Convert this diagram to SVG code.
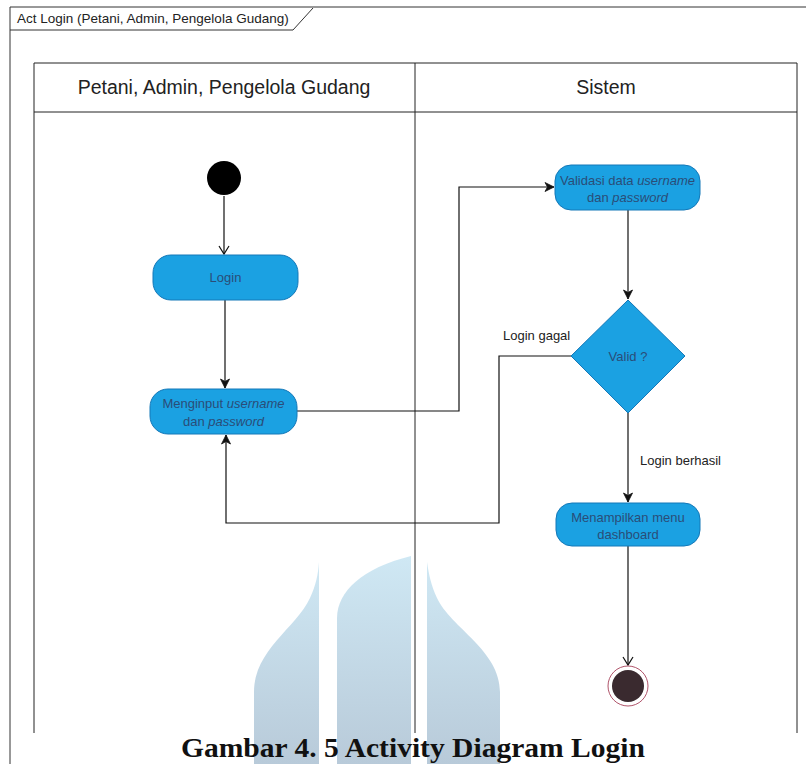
<svg xmlns="http://www.w3.org/2000/svg" width="806" height="764" viewBox="0 0 806 764">
  <defs>
    <style>
      .frame { fill: none; stroke: #333; stroke-width: 1; }
      .lane { fill: none; stroke: #222; stroke-width: 1; }
      .hdr { font-family: "Liberation Sans", Arial, sans-serif; font-size: 19.5px; fill: #222; text-anchor: middle; }
      .act { fill: #1ba1e2; stroke: #1478b8; stroke-width: 1; }
      .atxt { font-family: "Liberation Sans", Arial, sans-serif; font-size: 13px; fill: #2a4d78; text-anchor: middle; }
      .lbl { font-family: "Liberation Sans", Arial, sans-serif; font-size: 13px; fill: #222; }
      .edge { fill: none; stroke: #111; stroke-width: 1.2; }
      .cap { font-family: "Liberation Serif", "Times New Roman", serif; font-size: 28px; font-weight: bold; fill: #111; text-anchor: middle; }
    </style>
    <marker id="open" markerWidth="12" markerHeight="12" refX="10" refY="6" orient="auto" markerUnits="userSpaceOnUse">
      <path d="M2,1 L10,6 L2,11" fill="none" stroke="#111" stroke-width="1.2"/>
    </marker>
    <marker id="block" markerWidth="12" markerHeight="12" refX="10" refY="6" orient="auto" markerUnits="userSpaceOnUse">
      <path d="M1,1.5 L10,6 L1,10.5 L3.5,6 Z" fill="#111" stroke="#111" stroke-width="0.8"/>
    </marker>
    <linearGradient id="wm" x1="0" y1="0" x2="0" y2="1">
      <stop offset="0" stop-color="#cfe8f4"/>
      <stop offset="1" stop-color="#b8cad9"/>
    </linearGradient>
    <linearGradient id="soft" x1="0" y1="0" x2="0" y2="1">
      <stop offset="0" stop-color="#1b9fe0"/>
      <stop offset="0.55" stop-color="#1b9fe0"/>
      <stop offset="0.56" stop-color="#48b2e6"/>
      <stop offset="1" stop-color="#48b2e6"/>
    </linearGradient>
  </defs>

  <rect width="806" height="764" fill="#ffffff"/>

  <!-- watermark emblem -->
  <g id="emblem" fill="url(#wm)">
    <path d="M319,562 L319,764 L254,764 L254,692 C254,650 296,628 310,598 C316,585 318,575 319,562 Z"/>
    <path d="M337,764 L337,618 C337,592 362,568 411,556 L411,764 Z"/>
    <path d="M427,562 C429,575 431,585 437,598 C451,628 500,650 500,692 L500,764 L427,764 Z"/>
  </g>

  <!-- diagram frame with name tab -->
  <g id="frame">
    <path class="frame" d="M10,764 L10,7 L806,7"/>
    <path class="frame" d="M10,30 L293,30 L313,8"/>
    <text x="17" y="23" font-family="Liberation Sans, Arial, sans-serif" font-size="13.5" fill="#222">Act Login (Petani, Admin, Pengelola Gudang)</text>
  </g>

  <!-- swimlanes -->
  <g id="lanes">
    <path class="lane" d="M34,733 L34,63 L797,63 L797,733"/>
    <line class="lane" x1="34" y1="112" x2="797" y2="112"/>
    <line class="lane" x1="415" y1="63" x2="415" y2="733"/>
    <text class="hdr" x="224" y="94">Petani, Admin, Pengelola Gudang</text>
    <text class="hdr" x="606" y="94">Sistem</text>
  </g>

  <!-- connectors -->
  <g id="connectors">
    <line class="edge" x1="224" y1="196" x2="224" y2="254" marker-end="url(#open)"/>
    <line class="edge" x1="225" y1="300" x2="225" y2="388" marker-end="url(#block)"/>
    <path class="edge" d="M297,411 L459,411 L459,187 L554,187" marker-end="url(#block)"/>
    <line class="edge" x1="628" y1="210" x2="628" y2="299" marker-end="url(#block)"/>
    <path class="edge" d="M571,356 L499,356 L499,523 L226,523 L226,435" marker-end="url(#block)"/>
    <line class="edge" x1="628" y1="413" x2="628" y2="502" marker-end="url(#block)"/>
    <line class="edge" x1="628" y1="546" x2="628" y2="665" marker-end="url(#open)"/>
    <text class="lbl" x="503" y="340">Login gagal</text>
    <text class="lbl" x="640" y="465">Login berhasil</text>
  </g>

  <!-- nodes -->
  <g id="start">
    <circle cx="224" cy="178" r="17" fill="#000"/>
  </g>

  <g id="login">
    <rect class="act" x="153" y="255" width="145" height="45" rx="18"/>
    <text class="atxt" x="225.5" y="282">Login</text>
  </g>

  <g id="input">
    <rect class="act" x="150" y="389" width="147" height="45" rx="18" fill="url(#soft)"/>
    <text class="atxt" x="223.5" y="408">Menginput <tspan font-style="italic">username</tspan></text>
    <text class="atxt" x="223.5" y="426" fill="#4a6e94">dan <tspan font-style="italic">password</tspan></text>
  </g>

  <g id="validasi">
    <rect class="act" x="555" y="165" width="145" height="45" rx="16"/>
    <text class="atxt" x="627.5" y="185">Validasi data <tspan font-style="italic">username</tspan></text>
    <text class="atxt" x="627.5" y="202">dan <tspan font-style="italic">password</tspan></text>
  </g>

  <g id="decision">
    <polygon class="act" points="628,300 685,356 628,413 571,356"/>
    <text class="atxt" x="628" y="361">Valid ?</text>
  </g>

  <g id="dashboard">
    <rect class="act" x="556" y="503" width="144" height="43" rx="16" fill="#3aa9e2"/>
    <text class="atxt" x="628" y="522">Menampilkan menu</text>
    <text class="atxt" x="628" y="539">dashboard</text>
  </g>

  <g id="end">
    <circle cx="628" cy="686" r="20" fill="#fff" stroke="#b0546a" stroke-width="1"/>
    <circle cx="628" cy="686" r="16" fill="#3a2a2f"/>
  </g>

  <!-- caption -->
  <g id="caption">
    <text class="cap" x="413" y="757" textLength="464" lengthAdjust="spacingAndGlyphs">Gambar 4. 5 Activity Diagram Login</text>
  </g>
</svg>
